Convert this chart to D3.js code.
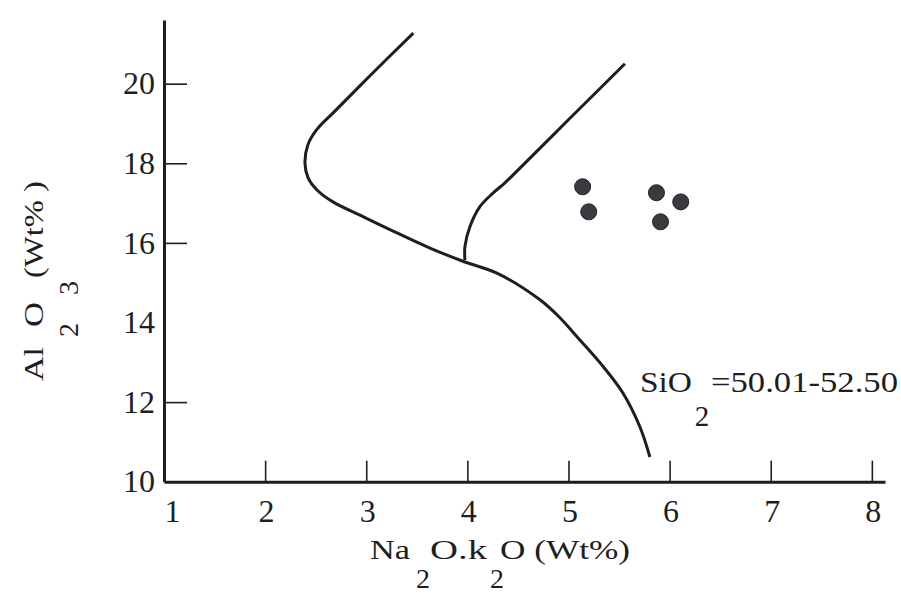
<!DOCTYPE html>
<html>
<head>
<meta charset="utf-8">
<script src="https://cdn.jsdelivr.net/npm/d3@7"></script>
<style>
  html, body { margin: 0; padding: 0; background: #fff; }
  svg { display: block; font-family: "Liberation Serif", "DejaVu Serif", serif; }
</style>
</head>
<body>
<svg id="chart" width="901" height="595"></svg>
<script>
// Boundary curve (lower-left field) in Na2O+K2O vs Al2O3
const boundaryA = [
  [3.465, 21.27], [3.037, 20.20], [2.690, 19.31], [2.512, 18.85],
  [2.424, 18.47], [2.394, 18.01], [2.424, 17.64], [2.513, 17.33], [2.671, 17.03],
  [2.968, 16.66], [3.304, 16.25], [3.630, 15.87], [3.976, 15.52], [4.292, 15.24],
  [4.718, 14.57], [4.915, 14.12], [5.113, 13.56], [5.331, 12.93], [5.538, 12.23],
  [5.706, 11.38], [5.805, 10.62]
];
// Branch curve rising from the junction
const boundaryB = [
  [3.976, 15.57], [3.976, 15.91], [4.026, 16.41], [4.124, 16.91], [4.253, 17.25],
  [4.372, 17.51], [4.520, 17.88], [5.014, 19.13], [5.558, 20.50]
];
// Samples
const samples = [
  [5.14, 17.41], [5.20, 16.78], [5.87, 17.26], [6.11, 17.03], [5.91, 16.53]
];
const xTicks = [1, 2, 3, 4, 5, 6, 7, 8];
const yTicks = [10, 12, 14, 16, 18, 20];
const yTickMarks = [12, 16, 18, 20];

const svg = d3.select("#chart");
const INK = "#1e1e22";
const FONT = "Liberation Serif";

const x = d3.scaleLinear().domain([1, 8.13]).range([164, 885]);
const y = d3.scaleLinear().domain([10, 21.6]).range([481.7, 20]);

// X axis
const xAxis = svg.append("g").attr("transform", `translate(0, ${y(10)})`)
  .call(d3.axisBottom(x).tickValues(xTicks).tickSize(-21).tickSizeOuter(0).tickPadding(18).tickFormat(d3.format("d")));
xAxis.select(".domain").attr("stroke", INK).attr("stroke-width", 3);
xAxis.selectAll(".tick line").attr("stroke", INK).attr("stroke-width", 1.6)
  .attr("display", d => d === 1 ? "none" : null);
xAxis.selectAll(".tick text").attr("font-size", 32).attr("fill", INK)
  .attr("font-family", FONT)
  .attr("dx", d => d === 1 ? 8 : 1);

// Y axis
const yAxis = svg.append("g").attr("transform", `translate(${x(1)}, 0)`)
  .call(d3.axisLeft(y).tickValues(yTicks).tickSize(-23).tickSizeOuter(0).tickPadding(9).tickFormat(d3.format("d")));
yAxis.select(".domain").attr("stroke", INK).attr("stroke-width", 3);
yAxis.selectAll(".tick line").attr("stroke", INK).attr("stroke-width", 1.6)
  .attr("display", d => yTickMarks.includes(d) ? null : "none");
yAxis.selectAll(".tick text").attr("font-size", 32).attr("fill", INK)
  .attr("font-family", FONT);

// Curves
const line = d3.line().x(d => x(d[0])).y(d => y(d[1])).curve(d3.curveCatmullRom.alpha(0.5));
svg.append("path").datum(boundaryA).attr("d", line)
  .attr("fill", "none").attr("stroke", INK).attr("stroke-width", 3);
svg.append("path").datum(boundaryB).attr("d", line)
  .attr("fill", "none").attr("stroke", INK).attr("stroke-width", 3);

// Points
svg.selectAll("circle.pt").data(samples).join("circle").attr("class", "pt")
  .attr("cx", d => x(d[0])).attr("cy", d => y(d[1])).attr("r", 8)
  .attr("fill", "#3a3a40").attr("stroke", "#222").attr("stroke-width", 1);

// helper for stretched scan-like text
function label(g, px, py, str, len, anchor) {
  const t = g.append("text").attr("x", px).attr("y", py).attr("font-family", FONT).text(str);
  if (len) t.attr("textLength", len).attr("lengthAdjust", "spacingAndGlyphs");
  if (anchor) t.attr("text-anchor", anchor);
  return t;
}

// Annotation
const ann = svg.append("g").attr("font-size", 29).attr("fill", INK);
label(ann, 640, 392, "SiO", 52);
label(ann, 711, 392, "=50.01-52.50", 187);
label(ann, 702, 426, "2", null, "middle");

// X title
const xt = svg.append("g").attr("font-size", 28).attr("fill", INK);
label(xt, 370, 559, "Na", 40);
label(xt, 430, 559, "O.k", 57);
label(xt, 500, 559, "O (Wt%)", 130);
label(xt, 423, 588, "2", null, "middle");
label(xt, 497, 588, "2", null, "middle");

// Y title (rotated)
const yt = svg.append("g").attr("font-size", 28).attr("fill", INK)
  .attr("transform", "translate(43, 0) rotate(-90)");
label(yt, -381, 0, "Al", 34);
label(yt, -327, 0, "O", 25);
label(yt, -278, 0, "(Wt% )", 97);
label(yt, -330, 35, "2", null, "middle");
label(yt, -288, 35, "3", null, "middle");
</script>
</body>
</html>
